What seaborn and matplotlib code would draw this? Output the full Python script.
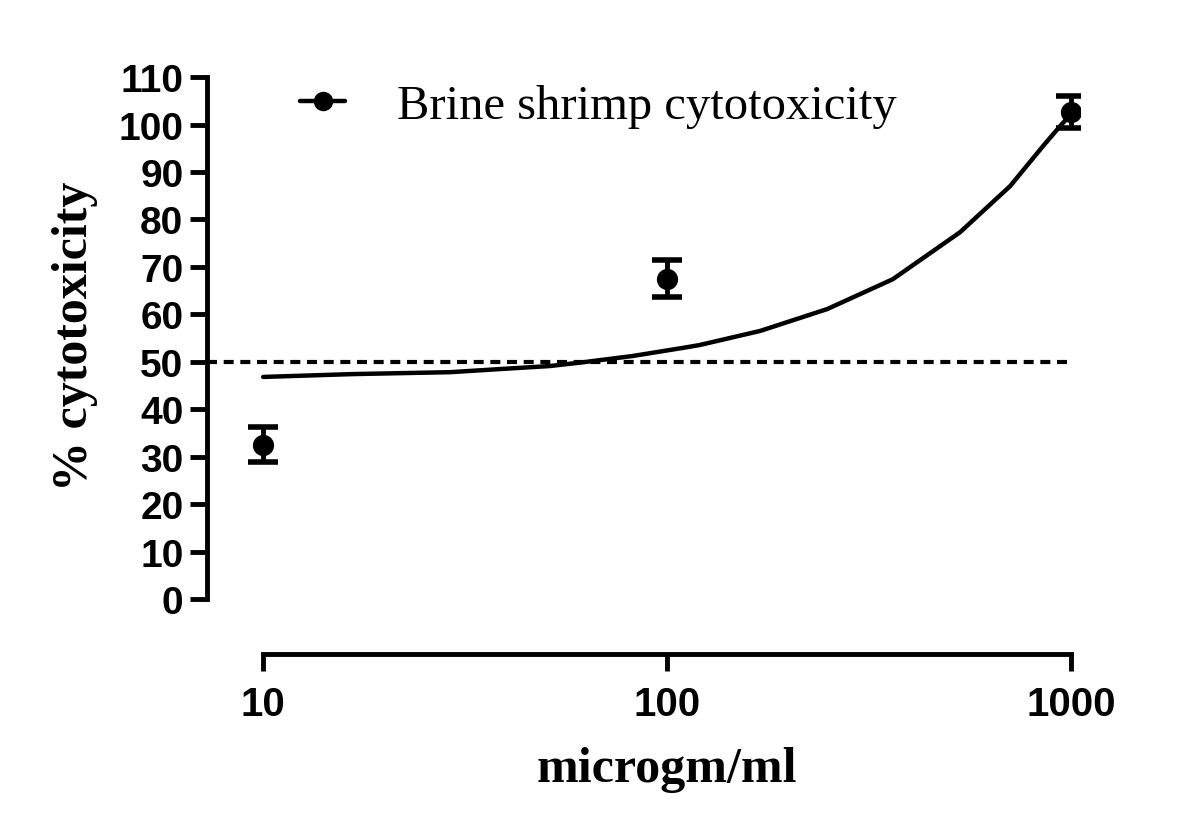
import matplotlib
matplotlib.use('Agg')
import matplotlib.pyplot as plt
from matplotlib.lines import Line2D
import pandas as pd
import seaborn as sns

# Measured points (mean +/- error)
conc = [10, 100, 1000]
cytotox = [32.5, 67.5, 102.6]
err = [3.7, 3.9, 3.4]

# Fitted curve
fit_x = [10, 16.7, 29, 39.3, 51.3, 62, 82, 109, 120, 170, 249, 362, 531, 706, 853, 940, 1000]
fit_y = [46.8, 47.4, 47.8, 48.5, 49.1, 49.9, 51.2, 52.9, 53.5, 56.5, 61.1, 67.4, 77.3, 87.0, 95.5, 99.7, 102.2]

df_pts = pd.DataFrame({'conc': conc, 'cytotox': cytotox})
df_fit = pd.DataFrame({'conc': fit_x, 'cytotox': fit_y})

sns.set_style('ticks', {'axes.edgecolor': 'black', 'text.color': 'black',
                        'xtick.color': 'black', 'ytick.color': 'black',
                        'axes.labelcolor': 'black'})
plt.rcParams['font.family'] = ['Liberation Sans', 'DejaVu Sans']

fig = plt.figure(figsize=(12, 8.29), dpi=100)
ax = fig.add_axes([207 / 1200, (829 - 655) / 829, 873 / 1200, (655 - 68.6) / 829])

sns.lineplot(data=df_fit, x='conc', y='cytotox', color='black', linewidth=3.2, ax=ax)
ax.errorbar(conc, cytotox, yerr=err, fmt='none', ecolor='black', elinewidth=3.5,
            capsize=11, capthick=4, zorder=3)
sns.scatterplot(data=df_pts, x='conc', y='cytotox', color='black', s=200,
                edgecolor='black', ax=ax, zorder=4)
ax.axhline(50, color='black', lw=3, linestyle=(0, (2.4, 1.6)), xmax=(1073 - 207) / 873)

ax.set_xscale('log')
ax.set_xlim(7.26, 1052)
ax.set_ylim(-11.6, 112)
ax.set_xticks([10, 100, 1000])
ax.set_xticklabels(['10', '100', '1000'])
ax.set_yticks(range(0, 111, 10))
ax.minorticks_off()
ax.tick_params(axis='both', length=12, width=3.5, pad=5, colors='black')
ax.tick_params(axis='y', labelsize=28)
ax.tick_params(axis='x', labelsize=29, pad=10)
for lab in ax.get_xticklabels() + ax.get_yticklabels():
    lab.set_fontweight('bold')

sns.despine(ax=ax)
ax.spines['left'].set_bounds(0, 110)
ax.spines['bottom'].set_bounds(10, 1000)
ax.spines['left'].set_linewidth(3.5)
ax.spines['bottom'].set_linewidth(3.5)

ax.set_xlabel('microgm/ml', family='Liberation Serif', fontsize=36, fontweight='bold')
ax.xaxis.set_label_coords((667 - 207) / 873, -(770 - 655) / (655 - 68.6))
ax.set_ylabel('% cytotoxicity', family='Liberation Serif', fontsize=36, fontweight='bold')
ax.yaxis.set_label_coords(-(207 - 75) / 873, (655 - 336) / (655 - 68.6))
ax.xaxis.label.set_va('center')
ax.yaxis.label.set_va('center')

handle = Line2D([], [], color='black', lw=3.2, marker='o', markersize=13)
fig.legend([handle], ['Brine shrimp cytotoxicity'], loc='center left',
           bbox_to_anchor=(300 / 1200, 1 - 107 / 829), frameon=False,
           prop={'family': 'Liberation Serif', 'size': 35}, labelcolor='black',
           handlelength=0.93, handletextpad=1.07, borderpad=0, borderaxespad=0)

fig.savefig('out.png', dpi=100)
